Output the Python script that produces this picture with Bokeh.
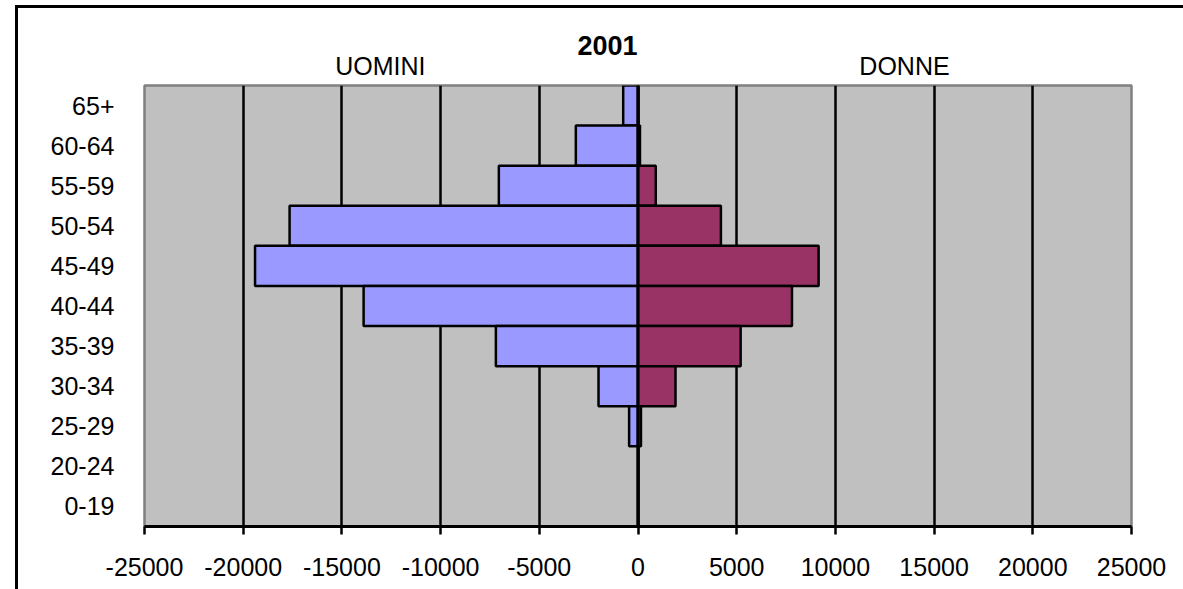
from bokeh.plotting import figure
from bokeh.models import ColumnDataSource, FactorRange, Range1d, FixedTicker, Span, LinearAxis
from bokeh.embed import file_html
from bokeh.resources import INLINE

# ---- data ----
age_groups = ["65+", "60-64", "55-59", "50-54", "45-49", "40-44",
              "35-39", "30-34", "25-29", "20-24", "0-19"]
uomini = [-750, -3150, -7050, -17650, -19400, -13900, -7200, -2000, -450, 0, 0]
donne = [0, 100, 900, 4200, 9150, 7800, 5200, 1900, 150, 0, 0]
x_ticks = [-25000, -20000, -15000, -10000, -5000, 0, 5000, 10000, 15000, 20000, 25000]
x_tick_labels = ["-25000", "-20000", "-15000", "-10000", "-5000", "0",
                 "5000", "10000", "15000", "20000", "25000"]
title_text = "2001"
side_labels = ["UOMINI", "DONNE"]

FONT = "Liberation Sans"

src = ColumnDataSource(dict(age=age_groups, m=uomini, f=donne))

p = figure(
    width=1165, height=581,
    frame_width=987, frame_height=441,
    min_border_left=126, min_border_right=52,
    min_border_top=77, min_border_bottom=63,
    y_range=FactorRange(factors=list(reversed(age_groups))),
    x_range=Range1d(x_ticks[0], x_ticks[-1]),
    output_backend="svg", toolbar_location=None,
)
p.styles = {"border-top": "3px solid black", "border-left": "3px solid black",
            "margin-left": "15px", "margin-top": "5px"}
p.background_fill_color = "#C0C0C0"
p.border_fill_color = "white"
p.outline_line_color = "#808080"
p.outline_line_width = 2.5

# grid
p.ygrid.grid_line_color = None
p.xgrid.ticker = FixedTicker(ticks=x_ticks[1:-1])
p.xgrid.grid_line_color = "black"
p.xgrid.grid_line_width = 2.5

# bars
p.hbar(y="age", left=0, right="m", height=1.0, source=src,
       fill_color="#9999FF", line_color="black", line_width=2.5)
p.hbar(y="age", left=0, right="f", height=1.0, source=src,
       fill_color="#993366", line_color="black", line_width=2.5)

# zero axis line
p.add_layout(Span(location=0, dimension="height", line_color="black", line_width=3))

# x axis
xa = p.xaxis[0]
xa.ticker = FixedTicker(ticks=x_ticks)
xa.major_label_overrides = {t: l for t, l in zip(x_ticks, x_tick_labels)}
xa.axis_line_color = "black"
xa.axis_line_width = 3
xa.major_tick_line_color = "black"
xa.major_tick_line_width = 2.5
xa.major_tick_in = 0
xa.major_tick_out = 8
xa.minor_tick_line_color = None
xa.major_label_standoff = 23
xa.major_label_text_font = FONT
xa.major_label_text_font_size = "25px"
xa.major_label_text_color = "black"

# y axis
ya = p.yaxis[0]
ya.axis_line_color = None
ya.major_tick_line_color = None
ya.minor_tick_line_color = None
ya.major_label_standoff = 24
ya.major_label_text_font = FONT
ya.major_label_text_font_size = "25px"
ya.major_label_text_color = "black"

# side labels above the plot (UOMINI / DONNE)
side_pos = [-13050, 13500]
top_ax = LinearAxis(ticker=FixedTicker(ticks=side_pos),
                    major_label_overrides={t: s for t, s in zip(side_pos, side_labels)})
top_ax.axis_line_color = None
top_ax.major_tick_line_color = None
top_ax.minor_tick_line_color = None
top_ax.major_tick_in = 0
top_ax.major_tick_out = 0
top_ax.major_label_standoff = 6
top_ax.major_label_text_font = FONT
top_ax.major_label_text_font_size = "25px"
top_ax.major_label_text_color = "black"
p.add_layout(top_ax, "above")

# title
p.title.text = title_text
p.title.align = "left"
p.title.offset = 433
p.title.text_font = FONT
p.title.text_font_size = "27px"
p.title.text_font_style = "bold"
p.title.text_color = "black"
p.title.standoff = -12

open("out.html", "w").write(file_html(p, INLINE))
